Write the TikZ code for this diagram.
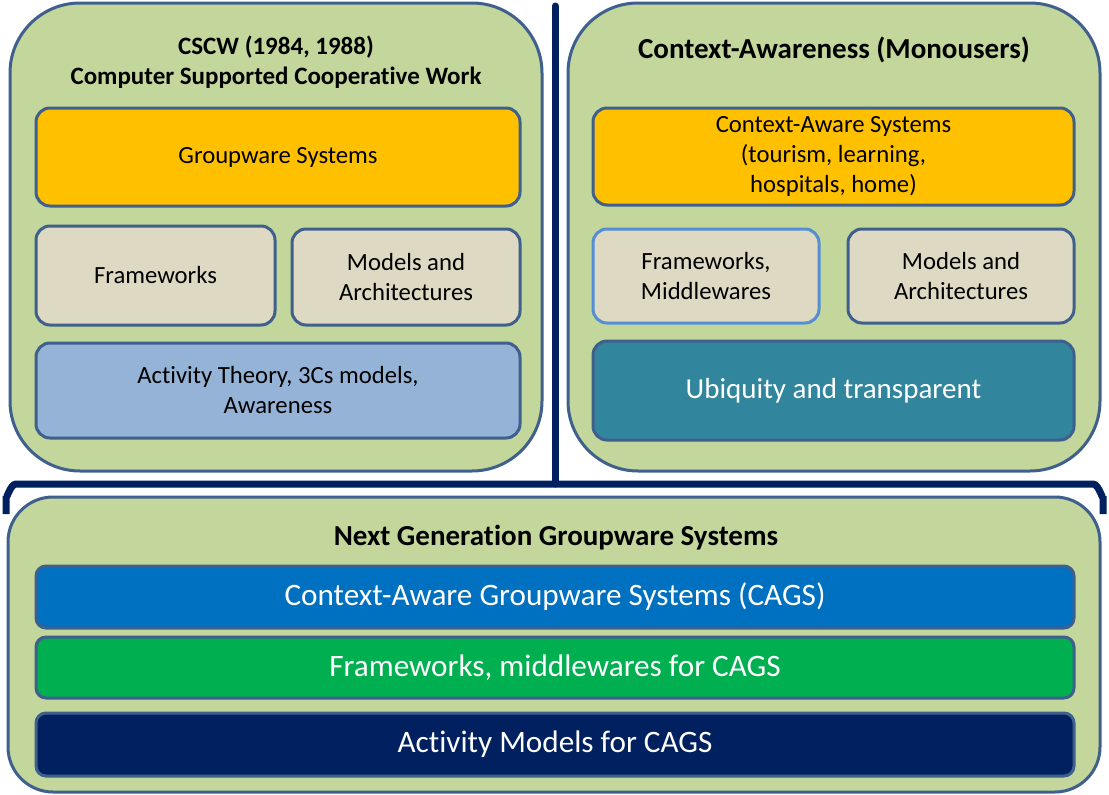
\documentclass[tikz,border=0pt]{standalone}
\usepackage{fontspec}
\setmainfont[Ligatures=NoCommon]{Carlito}
\definecolor{outerfill}{HTML}{C3D69B}
\definecolor{edge}{HTML}{3F5F8C}
\definecolor{lightedge}{HTML}{558ED5}
\definecolor{gold}{HTML}{FFC000}
\definecolor{beige}{HTML}{DDD9C3}
\definecolor{paleblue}{HTML}{95B3D7}
\definecolor{teal}{HTML}{31859C}
\definecolor{cagsblue}{HTML}{0070C0}
\definecolor{cagsgreen}{HTML}{00B050}
\definecolor{navy}{HTML}{002060}
\begin{document}
\begin{tikzpicture}[x=1pt,y=-1pt,
  outerbox/.style={draw=edge,fill=outerfill,line width=3pt,inner sep=0pt,rounded corners=#1},
  innerbox/.style={draw=edge,line width=3pt,inner sep=0pt,rounded corners=14pt,align=center,
    font=\fontsize{24.7}{30}\selectfont},
  bigbox/.style={innerbox,text=white,font=\fontsize{31.2}{36}\selectfont,rounded corners=10pt},
  title/.style={align=center,font=\fontsize{25}{30}\selectfont\bfseries},
  bracket/.style={draw=navy,line width=7pt}]
\useasboundingbox (0,0) rectangle (1109,795);
% outer boxes
\node[outerbox=70pt,minimum width=532pt,minimum height=468pt] (cscw) at (276,237) {};
\node[outerbox=70pt,minimum width=532pt,minimum height=468pt] (ca) at (834,237) {};
\node[outerbox=45pt,minimum width=1092pt,minimum height=295pt] (ngs) at (554,644.5) {};
% divider and brace
\coordinate (vtop) at (555,6);
\coordinate (vbot) at (555,484);
\coordinate (bl) at (6,514);
\coordinate (br) at (1103,514);
\draw[bracket,line cap=round] (vtop) -- (vbot);
\draw[bracket] (bl) -- ++(0,-18) to[out=-90,in=180] ++(10,-12) -- (vbot) -- (1093,484) to[out=0,in=-90] ++(10,12) -- (br);
% titles
\node[title] (t1) at (276,62) {CSCW (1984, 1988)\\Computer Supported Cooperative Work};
\node[title,font=\fontsize{29}{32}\selectfont\bfseries] (t2) at (834,50) {Context-Awareness (Monousers)};
\node[title,font=\fontsize{29}{32}\selectfont\bfseries] (t3) at (556,538) {Next Generation Groupware Systems};
% left inner
\node[innerbox,fill=gold,minimum width=484pt,minimum height=98pt] (gw) at (278,157) {Groupware Systems};
\node[innerbox,fill=beige,minimum width=239pt,minimum height=99pt] (fwl) at (155.5,275.5) {Frameworks};
\node[innerbox,fill=beige,minimum width=228pt,minimum height=96pt] (mal) at (406,277) {Models and\\Architectures};
\node[innerbox,fill=paleblue,minimum width=484pt,minimum height=95pt] (at) at (278,390.5) {Activity Theory, 3Cs models,\\Awareness};
% right inner
\node[innerbox,fill=gold,minimum width=481pt,minimum height=97pt] (cas) at (833.5,156.5) {Context-Aware Systems\\(tourism, learning,\\hospitals, home)};
\node[innerbox,draw=lightedge,fill=beige,minimum width=226pt,minimum height=94pt] (fwr) at (706,276) {Frameworks,\\Middlewares};
\node[innerbox,fill=beige,minimum width=226pt,minimum height=94pt] (mar) at (961,276) {Models and\\Architectures};
\node[innerbox,fill=teal,text=white,font=\fontsize{29}{32}\selectfont,minimum width=481pt,minimum height=99pt] (ub) at (833.5,390.5) {Ubiquity and transparent};
% bottom inner
\node[bigbox,fill=cagsblue,minimum width=1038pt,minimum height=62pt] (cags) at (555,597) {Context-Aware Groupware Systems (CAGS)};
\node[bigbox,fill=cagsgreen,minimum width=1038pt,minimum height=61pt] (fwm) at (555,667.5) {Frameworks, middlewares for CAGS};
\node[bigbox,fill=navy,minimum width=1038pt,minimum height=63pt] (am) at (555,744.5) {Activity Models for CAGS};
\end{tikzpicture}
\end{document}
